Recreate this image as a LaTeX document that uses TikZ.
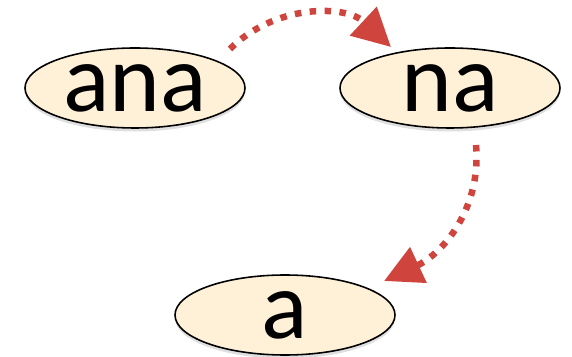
\documentclass[tikz,border=0pt]{standalone}
\usepackage{fontspec}
\setmainfont{Carlito}
\usetikzlibrary{shapes.geometric,arrows.meta,shadows}
\definecolor{cream}{HTML}{FEF1D8}
\definecolor{dotred}{HTML}{D0443E}

\begin{document}
\begin{tikzpicture}[font=\fontsize{55}{60}\selectfont,
  word/.style={ellipse,draw=black,line width=.9pt,fill=cream,inner sep=0pt,
    minimum width=4.4cm,minimum height=1.6cm,
    drop shadow={opacity=.25,shadow xshift=0pt,shadow yshift=-.07cm}},
  link/.style={draw=dotred,line width=3.7pt,dash pattern=on 3.7pt off 4.8pt,
    -{Triangle[length=.76cm,width=.76cm]}}]
\useasboundingbox (0,0) rectangle (11.44,-7.14);
\node[word] (ana) at (2.7,-1.76) {ana};
\node[word] (na) at (9.0,-1.76) {na};
\node[word] (a) at (5.7,-6.3) {a};
\coordinate (ana-out) at ([shift={(1.9,.78)}]ana.center);
\coordinate (na-in) at ([shift={(-1.18,.82)}]na.center);
\coordinate (na-out) at ([shift={(.52,-1.14)}]na.center);
\coordinate (a-in) at ([shift={(1.98,.68)}]a.center);
\draw[link] (ana-out) to[out=45,in=137] (na-in);
\draw[link] (na-out) to[out=-85,in=25] (a-in);
\end{tikzpicture}
\end{document}
